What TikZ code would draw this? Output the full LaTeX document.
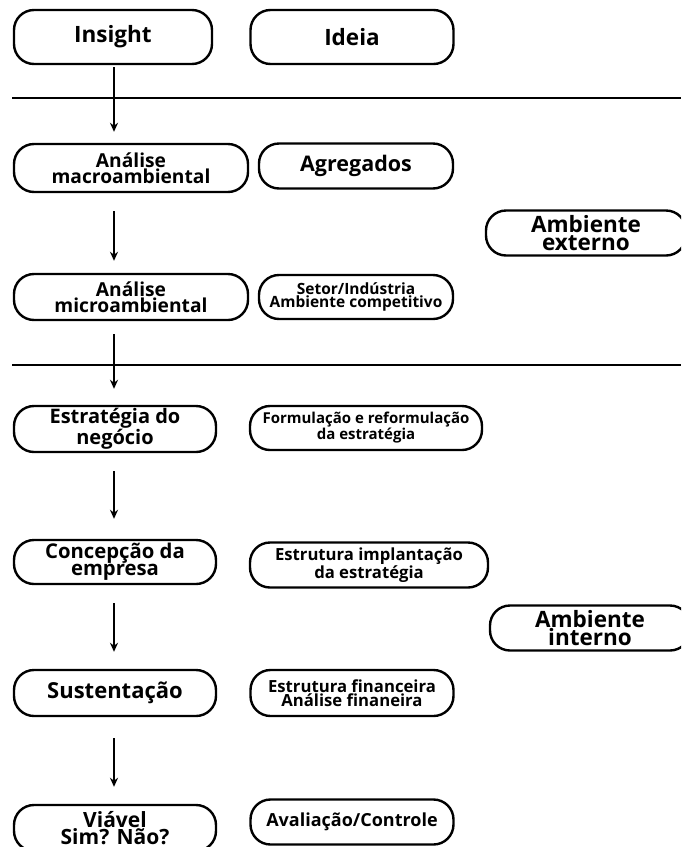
\documentclass[tikz,border=0pt]{standalone}
\usepackage{fontspec}
\setmainfont{Open Sans}
\usetikzlibrary{positioning,arrows.meta}
\tikzset{
    pill/.style={draw, line width=2.4pt, rounded corners=20pt, align=center, inner sep=0pt},
    sz/.style 2 args={font=\fontsize{#1}{#2}\selectfont\bfseries},
    flow/.style={->, line width=2pt, shorten <=18pt, shorten >=15pt}
}
\begin{document}
\begin{tikzpicture}[x=1pt, y=-1pt, >={Stealth[length=9pt,width=8pt]}]
    \clip (0,0) rectangle (681,847);
    % Draw separators
    \coordinate (lefta) at (12, 98);
    \coordinate (righta) at (681, 98);
    \coordinate (leftb) at (12, 365);
    \coordinate (rightb) at (681, 365);
    \coordinate (axis) at (114, 0);
    \draw [line width=2pt] (lefta) -- (righta);
    \draw [line width=2pt] (leftb) -- (rightb);
    % Left column
    \node [pill, sz={22.5}{19}, minimum width=198pt, minimum height=54pt] (insight) at (113, 37) {Insight};
    \node [pill, sz={19.2}{16.5}, minimum width=234pt, minimum height=48pt] (macro) at (131, 168) {Análise\\macroambiental};
    \node [pill, sz={19.2}{16.5}, minimum width=234pt, minimum height=46pt] (micro) at (131, 297) {Análise\\microambiental};
    \node [pill, sz={20}{17}, minimum width=202pt, minimum height=46pt] (estrategia) at (115, 429) {Estratégia do\\negócio};
    \node [pill, sz={20.3}{17}, minimum width=202pt, minimum height=44pt] (concepcao) at (115, 562) {Concepção da\\empresa};
    \node [pill, sz={22}{19}, minimum width=202pt, minimum height=46pt] (sustentacao) at (115, 693) {Sustentação};
    \node [pill, sz={21}{17}, minimum width=202pt, minimum height=46pt] (viavel) at (115, 828) {Viável\\Sim? Não?};
    % Middle column
    \node [pill, sz={22.5}{19}, minimum width=203pt, minimum height=54pt] (ideia) at (352, 37) {Ideia};
    \node [pill, sz={21.5}{19}, minimum width=194pt, minimum height=45pt] (agregados) at (356, 166) {Agregados};
    \node [pill, sz={15.5}{13}, minimum width=194pt, minimum height=44pt] (setor) at (356, 297) {Setor/Indústria\\Ambiente competitivo};
    \node [pill, sz={15}{13}, minimum width=232pt, minimum height=44pt] (formulacao) at (366, 428) {Formulação e reformulação\\da estratégia};
    \node [pill, sz={16.7}{14}, minimum width=238pt, minimum height=45pt] (implantacao) at (369, 565) {Estrutura implantação\\da estratégia};
    \node [pill, sz={16.7}{14}, minimum width=203pt, minimum height=46pt] (financeira) at (352, 693) {Estrutura financeira\\Análise finaneira};
    \node [pill, sz={18}{16}, minimum width=203pt, minimum height=45pt] (avaliacao) at (352, 822) {Avaliação/Controle};
    % Right column
    \node [pill, sz={22.5}{17.5}, minimum width=200pt, minimum height=45pt] (externo) at (586, 233) {Ambiente\\externo};
    \node [pill, sz={22.5}{17.5}, minimum width=200pt, minimum height=45pt] (interno) at (590, 628) {Ambiente\\interno};
    % Flow arrows
    \draw [flow, shorten <=2pt, shorten >=11pt] (axis |- insight.south) -- (axis |- macro.north);
    \draw [flow, shorten >=12pt] (axis |- macro.south) -- (axis |- micro.north);
    \draw [flow, shorten <=13pt, shorten >=16pt] (axis |- micro.south) -- (axis |- estrategia.north);
    \draw [flow, shorten >=20pt] (axis |- estrategia.south) -- (axis |- concepcao.north);
    \draw [flow, shorten >=17pt] (axis |- concepcao.south) -- (axis |- sustentacao.north);
    \draw [flow, shorten <=21pt, shorten >=17pt] (axis |- sustentacao.south) -- (axis |- viavel.north);
\end{tikzpicture}
\end{document}
